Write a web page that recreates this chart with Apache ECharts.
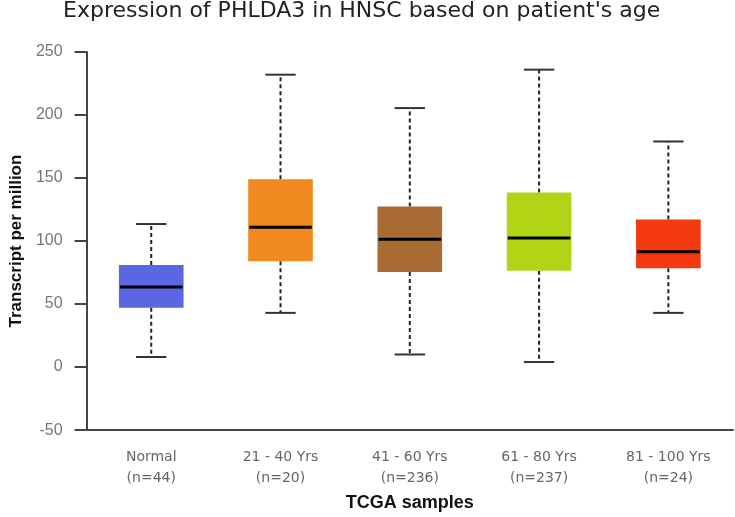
<!DOCTYPE html>
<html>
<head>
<meta charset="utf-8">
<script src="https://cdn.jsdelivr.net/npm/echarts@6/dist/echarts.min.js"></script>
<style>
  html, body { margin: 0; padding: 0; background: #fff; }
  #chart { width: 735px; height: 517px; }
</style>
</head>
<body>
<div id="chart"></div>
<script>
// groups and sample counts
const categories = ["Normal", "21 - 40 Yrs", "41 - 60 Yrs", "61 - 80 Yrs", "81 - 100 Yrs"];
const counts = [44, 20, 236, 237, 24];
// box stats (transcript per million)
const mins = [8, 43, 10, 4, 43];
const q1s = [47, 84, 75.5, 76.5, 78.5];
const medians = [63.5, 111, 101.5, 102.5, 91.5];
const q3s = [81, 149, 127.5, 138.5, 117];
const maxs = [113.5, 232, 205.5, 236, 179];
const yTicks = [-50, 0, 50, 100, 150, 200, 250];

const boxColors = ["#5a66e2", "#f0891f", "#a86b33", "#b2d416", "#f2390f"];

const labels = categories.map((c, i) => c + "\n(n=" + counts[i] + ")");
const data = categories.map((c, i) => [i, mins[i], q1s[i], medians[i], q3s[i], maxs[i]]);

const chart = echarts.init(document.getElementById("chart"));

function renderBox(params, api) {
  const i = api.value(0);
  const x = api.coord([i, 0])[0];
  const band = api.size([1, 0])[0];
  const bw = band * 0.5;
  const cw = band * 0.235;
  const yMin = api.coord([i, api.value(1)])[1];
  const yQ1 = api.coord([i, api.value(2)])[1];
  const yMed = api.coord([i, api.value(3)])[1];
  const yQ3 = api.coord([i, api.value(4)])[1];
  const yMax = api.coord([i, api.value(5)])[1];
  const dash = { stroke: "#222", lineWidth: 2, lineDash: [4, 3] };
  const cap = { stroke: "#333", lineWidth: 2 };
  return {
    type: "group",
    children: [
      { type: "line", shape: { x1: x, y1: yQ3, x2: x, y2: yMax }, style: dash },
      { type: "line", shape: { x1: x, y1: yQ1, x2: x, y2: yMin }, style: dash },
      { type: "line", shape: { x1: x - cw / 2, y1: yMax, x2: x + cw / 2, y2: yMax }, style: cap },
      { type: "line", shape: { x1: x - cw / 2, y1: yMin, x2: x + cw / 2, y2: yMin }, style: cap },
      { type: "rect", shape: { x: x - bw / 2, y: yQ3, width: bw, height: yQ1 - yQ3 },
        style: { fill: boxColors[i], stroke: null } },
      { type: "line", shape: { x1: x - bw / 2 + 1, y1: yMed, x2: x + bw / 2 - 1, y2: yMed },
        style: { stroke: "#000", lineWidth: 3 } }
    ]
  };
}

chart.setOption({
  animation: false,
  title: {
    text: "Expression of PHLDA3 in HNSC based on patient's age",
    left: 63,
    top: 0,
    padding: 0,
    textStyle: { fontFamily: "DejaVu Sans", fontSize: 22, fontWeight: "normal", color: "#222" }
  },
  grid: { left: 75, right: 2, top: 52, bottom: 76 },
  xAxis: {
    type: "category",
    data: labels,
    name: "TCGA samples",
    nameLocation: "middle",
    nameGap: 53,
    nameTextStyle: { fontFamily: "Liberation Sans", fontWeight: "bold", fontSize: 18, color: "#111" },
    axisLine: { onZero: false, lineStyle: { color: "#444", width: 2 } },
    axisTick: { show: false },
    axisLabel: {
      margin: 17,
      fontFamily: "DejaVu Sans",
      fontSize: 14,
      lineHeight: 21,
      color: "#666"
    }
  },
  yAxis: {
    type: "value",
    min: yTicks[0],
    max: yTicks[yTicks.length - 1],
    interval: 50,
    name: "Transcript per million",
    nameLocation: "middle",
    nameGap: 57,
    nameTextStyle: { fontFamily: "Liberation Sans", fontWeight: "bold", fontSize: 17, color: "#111" },
    splitLine: { show: false },
    axisLine: { show: true, lineStyle: { color: "#444", width: 2 } },
    axisTick: { show: true, length: 12, lineStyle: { color: "#444", width: 2 } },
    axisLabel: { margin: 24, fontFamily: "Liberation Sans", fontSize: 16, color: "#777" }
  },
  series: [{
    type: "custom",
    renderItem: renderBox,
    encode: { x: 0, y: [1, 2, 3, 4, 5] },
    data: data
  }]
});

window.addEventListener("resize", () => {
  chart.resize();
});
</script>
</body>
</html>
